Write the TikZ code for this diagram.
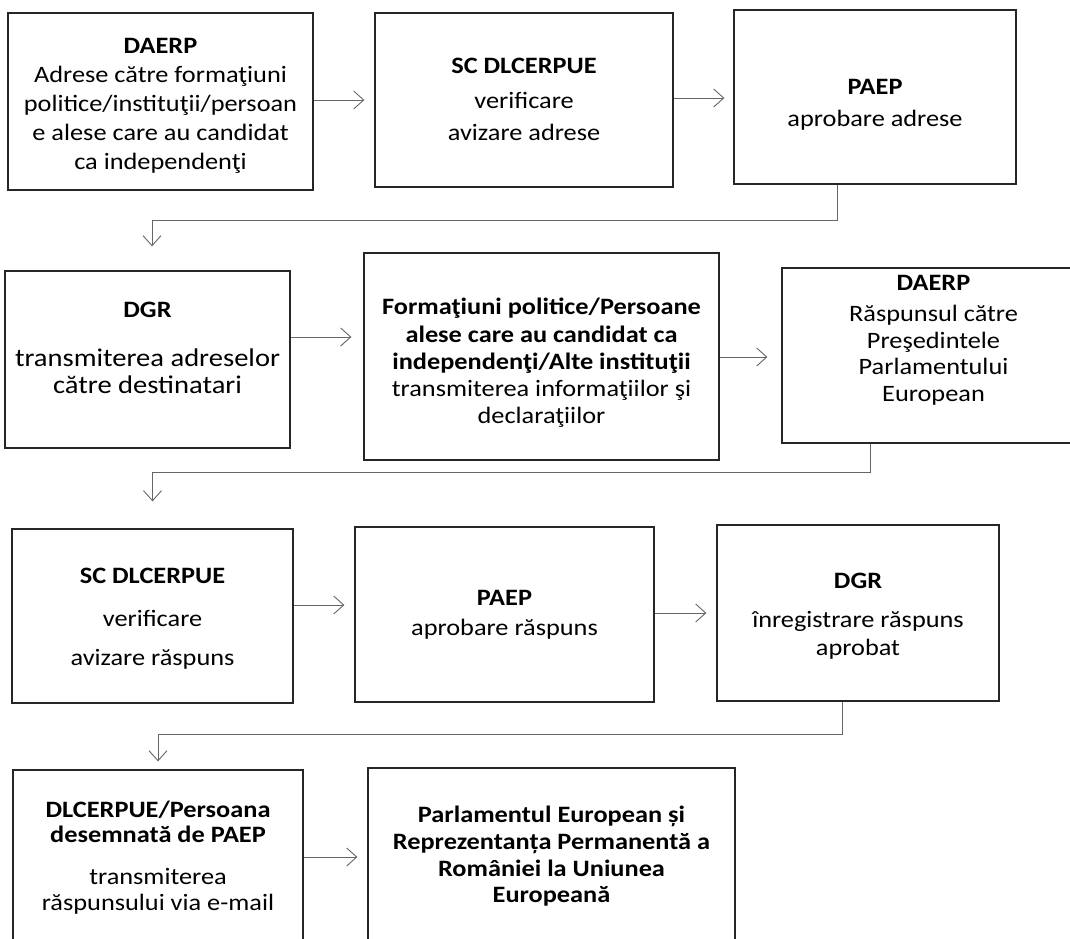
\documentclass[tikz,border=0pt]{standalone}
\usepackage{fontspec}
\setmainfont{Carlito}[FakeStretch=1.12]
\usetikzlibrary{arrows.meta}
\tikzset{
  box/.style={draw=black!85,line width=1.3pt,inner sep=0pt},
  txt/.style={align=center,inner sep=0pt,font=\fontsize{23.5}{#1}\selectfont},
  txt/.default=26,
  conn/.style={draw=black!60,line width=0.9pt,-{Straight Barb[length=10pt,width=18pt]}},
}
\begin{document}
\begin{tikzpicture}[x=1pt,y=-1pt]
\path[fill=white,use as bounding box] (0,0) rectangle (1070,938);
% row 1
\node[box,minimum width=305pt,minimum height=177pt] (A) at (160.5,101.5) {};
\node[box,minimum width=298pt,minimum height=174pt] (B) at (524,100) {};
\node[box,minimum width=282pt,minimum height=174pt] (C) at (875,97) {};
% row 2
\node[box,minimum width=285pt,minimum height=177pt] (D) at (147.5,359.5) {};
\node[box,minimum width=355pt,minimum height=207pt] (E) at (541.5,356.5) {};
\node[box,minimum width=303pt,minimum height=175pt] (F) at (933.5,355.5) {};
% row 3
\node[box,minimum width=281pt,minimum height=174pt] (G) at (152.5,616) {};
\node[box,minimum width=299pt,minimum height=175pt] (H) at (504.5,614.5) {};
\node[box,minimum width=282pt,minimum height=176pt] (I) at (858,613) {};
% row 4
\node[box,minimum width=290pt,minimum height=190pt] (J) at (158,865) {};
\node[box,minimum width=367pt,minimum height=192pt] (K) at (551.5,864) {};
% texts
\node[txt=29] (tA) at (160.5,105.5) {\textbf{DAERP}\\Adrese către formaţiuni\\politice/instituţii/persoan\\e alese care au candidat\\ca independenţi};
\node[txt] (tB) at (524,99) {\textbf{SC DLCERPUE}\\[9pt]verificare\\[6pt]avizare adrese};
\node[txt] (tC) at (875,104.5) {\textbf{PAEP}\\[6pt]aprobare adrese};
\node[txt=27,font=\fontsize{25.5}{27}\selectfont] (tD) at (147.5,348) {{\fontsize{23.5}{27}\selectfont\textbf{DGR}}\\[22pt]transmiterea adreselor\\către destinatari};
\node[txt=27.25] (tE) at (541.5,363) {\textbf{Formaţiuni politice/Persoane}\\\textbf{alese care au candidat ca}\\\textbf{independenţi/Alte instituţii}\\transmiterea informaţiilor şi\\declaraţiilor};
\node[txt=26.5] (tF) at (933.5,340) {\textbf{DAERP}\\[5pt]Răspunsul către\\Preşedintele\\Parlamentului\\European};
\node[txt] (tG) at (152.5,618.5) {\textbf{SC DLCERPUE}\\[17pt]verificare\\[13pt]avizare răspuns};
\node[txt] (tH) at (504.5,615) {\textbf{PAEP}\\[4pt]aprobare răspuns};
\node[txt] (tI) at (858,616) {\textbf{DGR}\\[13pt]înregistrare răspuns\\[2pt]aprobat};
\node[txt=25] (tJ) at (158,858) {\textbf{DLCERPUE/Persoana}\\\textbf{desemnată de PAEP}\\[17pt]transmiterea\\[1pt]răspunsului via e-mail};
\node[txt=26.7] (tK) at (551.5,856.5) {\textbf{Parlamentul European și}\\\textbf{Reprezentanța Permanentă a}\\\textbf{României la Uniunea}\\\textbf{Europeană}};
% connectors
\draw[conn,shorten >=10pt] ([yshift=1.5pt]A.east) -- ([yshift=1.5pt]A.east -| B.west);
\draw[conn,shorten >=9pt] ([yshift=2pt]B.east) -- ([yshift=2pt]B.east -| C.west);
\draw[conn] ([xshift=-38pt]C.south) -- ++(0,36) -| ([xshift=4.5pt,yshift=24pt]D.north);
\draw[conn,shorten >=12pt] ([yshift=22.5pt]D.east) -- ([yshift=22.5pt]D.east -| E.west);
\draw[conn,shorten >=14pt] ([yshift=-0.5pt]E.east) -- ([yshift=-0.5pt]E.east -| F.west);
\draw[conn] ([xshift=-63.5pt]F.south) -- ++(0,29) -| ([yshift=27pt]G.north);
\draw[conn,shorten >=10pt] ([yshift=11pt]G.east) -- ([yshift=11pt]G.east -| H.west);
\draw[conn,shorten >=10pt] ([yshift=1.5pt]H.east) -- ([yshift=1.5pt]H.east -| I.west);
\draw[conn] ([xshift=-16pt]I.south) -- ++(0,33) -| ([yshift=8pt]J.north);
\draw[conn,shorten >=10pt] ([yshift=8pt]J.east) -- ([yshift=8pt]J.east -| K.west);
\end{tikzpicture}
\end{document}
